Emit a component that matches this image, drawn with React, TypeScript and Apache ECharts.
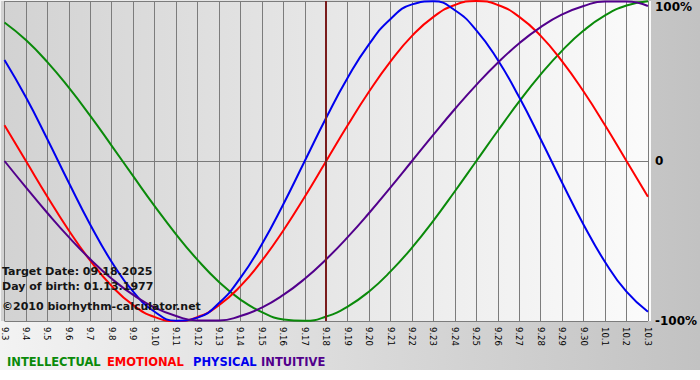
import React, { useEffect, useRef } from "react";
import * as echarts from "echarts";

const days = ["9.3","9.4","9.5","9.6","9.7","9.8","9.9","9.10","9.11","9.12","9.13","9.14","9.15","9.16","9.17","9.18","9.19","9.20","9.21","9.22","9.23","9.24","9.25","9.26","9.27","9.28","9.29","9.30","10.1","10.2","10.3"];

const intellectual = [86.6, 75.6, 61.8, 45.8, 28.2, 9.5, -9.5, -28.2, -45.8, -61.8, -75.6, -86.6, -94.5, -99.0, -99.9, -97.2, -91.0, -81.5, -69.0, -54.1, -37.2, -18.9, 0, 18.9, 37.2, 54.1, 69.0, 81.5, 91.0, 97.2, 99.9];
const emotional = [22.3, 0, -22.3, -43.4, -62.3, -78.2, -90.1, -97.5, -100, -97.5, -90.1, -78.2, -62.3, -43.4, -22.3, 0, 22.3, 43.4, 62.3, 78.2, 90.1, 97.5, 100, 97.5, 90.1, 78.2, 62.3, 43.4, 22.3, 0, -22.3];
const physical = [63.1, 39.8, 13.6, -13.6, -39.8, -63.1, -81.7, -94.2, -99.8, -97.9, -88.8, -73.1, -52.0, -27.0, 0, 27.0, 52.0, 73.1, 88.8, 97.9, 99.8, 94.2, 81.7, 63.1, 39.8, 13.6, -13.6, -39.8, -63.1, -81.7, -94.2];
const intuitive = [0, -16.5, -32.5, -47.6, -61.4, -73.6, -83.7, -91.6, -96.9, -99.7, -99.7, -96.9, -91.6, -83.7, -73.6, -61.4, -47.6, -32.5, -16.5, 0, 16.5, 32.5, 47.6, 61.4, 73.6, 83.7, 91.6, 96.9, 99.7, 99.7, 96.9];

const targetDay = "9.18";
const seriesNames = ["INTELLECTUAL", "EMOTIONAL", "PHYSICAL", "INTUITIVE"];
const seriesColors = ["#0a8a0a", "#ff0000", "#0000ee", "#52008c"];
const infoLines = ["Target Date: 09.18.2025", "Day of birth: 01.13.1977", "©2010 biorhythm-calculator.net"];

export default function App() {
  const ref = useRef<HTMLDivElement>(null);
  useEffect(() => {
    if (!ref.current) return;
    const chart = echarts.init(ref.current, undefined, { renderer: "svg" });
    const data = [intellectual, emotional, physical, intuitive];
    const legendX = [7, 107, 193, 261];
    const infoY = [271, 286, 306];
    chart.setOption({
      animation: false,
      backgroundColor: "#ffffff",
      grid: { left: 1, right: 49, top: 1, bottom: 59, containLabel: false },
      graphic: [
        {
          type: "rect",
          z: -100,
          silent: true,
          shape: { x: 0, y: 0, width: 700, height: 370 },
          style: {
            fill: new echarts.graphic.LinearGradient(0, 0, 1, 0, [
              { offset: 0, color: "#f3f3f3" },
              { offset: 1, color: "#c2c2c2" },
            ]),
          },
        },
        {
          type: "rect",
          z: -99,
          silent: true,
          shape: { x: 1, y: 1, width: 650, height: 320 },
          style: {
            fill: new echarts.graphic.LinearGradient(0, 0, 1, 0, [
              { offset: 0, color: "#d2d2d2" },
              { offset: 1, color: "#fbfbfb" },
            ]),
          },
        },
        ...infoLines.map((t, i) => ({
          type: "text",
          z: 100,
          silent: true,
          style: {
            text: t,
            x: 2,
            y: infoY[i],
            verticalAlign: "middle",
            fill: "#151515",
            font: 'bold 11px "DejaVu Sans"',
          },
        })),
        ...seriesNames.map((n, i) => ({
          type: "text",
          z: 100,
          silent: true,
          style: {
            text: n,
            x: legendX[i],
            y: 362,
            verticalAlign: "middle",
            fill: seriesColors[i],
            font: 'bold 11.5px "DejaVu Sans"',
          },
        })),
      ],
      xAxis: {
        type: "category",
        data: days,
        boundaryGap: false,
        axisLine: { show: true, lineStyle: { color: "#7a7a7a", width: 1 } },
        axisTick: { show: true, interval: 0, length: 5, lineStyle: { color: "#7a7a7a" } },
        axisLabel: {
          interval: 0,
          rotate: -90,
          margin: 6,
          color: "#000",
          fontSize: 8.5,
          fontFamily: "DejaVu Sans",
        },
        splitLine: { show: true, interval: 0, lineStyle: { color: "#7c7c7c", width: 1 } },
      },
      yAxis: {
        type: "value",
        position: "right",
        min: -100,
        max: 100,
        interval: 100,
        axisLine: { show: false },
        axisTick: { show: false },
        splitLine: { show: true, lineStyle: { color: "#7c7c7c", width: 1 } },
        axisLabel: {
          margin: 7,
          color: "#000",
          fontSize: 12,
          fontWeight: "bold",
          fontFamily: "DejaVu Sans",
          verticalAlignMaxLabel: "top",
          formatter: (v: number) => (v === 0 ? "0" : v + "%"),
        },
      },
      series: seriesNames.map((n, i) => ({
        name: n,
        type: "line",
        data: data[i],
        smooth: true,
        showSymbol: false,
        symbol: "none",
        lineStyle: { color: seriesColors[i], width: 2 },
        silent: true,
        z: 3,
        markLine:
          i === 0
            ? {
                silent: true,
                symbol: "none",
                label: { show: false },
                lineStyle: { color: "#7a1c1c", width: 2, type: "solid" },
                data: [{ xAxis: targetDay }],
              }
            : undefined,
      })),
    });
    return () => chart.dispose();
  }, []);
  return (
    <div
      ref={ref}
      style={{ position: "absolute", left: 0, top: 0, width: 700, height: 380 }}
    />
  );
}
